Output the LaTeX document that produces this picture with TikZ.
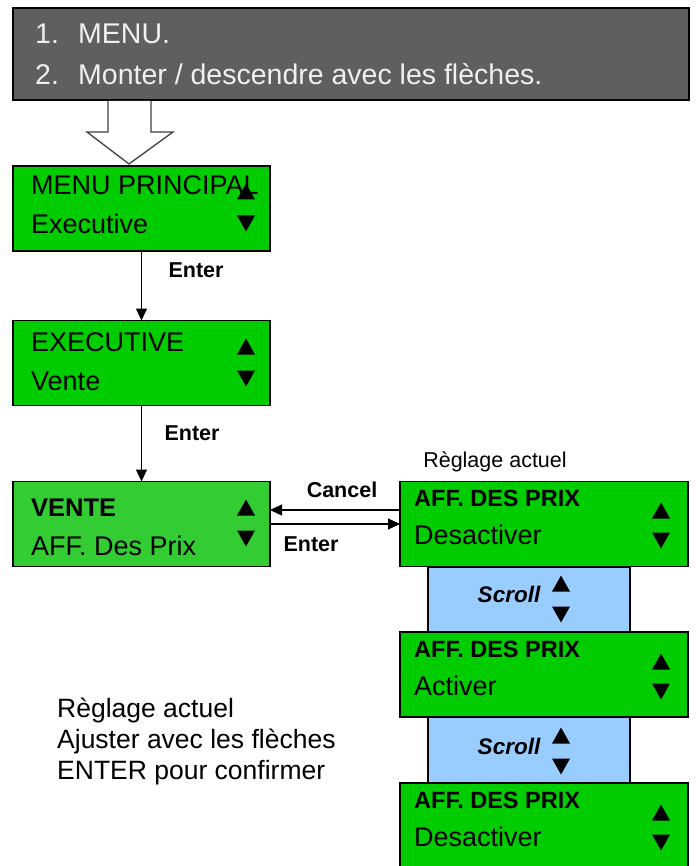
\documentclass[tikz,border=0pt]{standalone}
\usepackage{fontspec}
\setmainfont{Liberation Sans}
\usetikzlibrary{arrows.meta}
\definecolor{topgray}{HTML}{5F5F5F}
\definecolor{lcdgreen}{HTML}{00CC00}
\definecolor{lcdgreenb}{HTML}{33CC33}
\definecolor{scrollblue}{HTML}{99CCFF}
\definecolor{hollowgray}{HTML}{404040}
\newcommand\mytriup[2]{\fill (#1-9,#2+7.5) -- (#1+9,#2+7.5) -- (#1,#2-8.5) -- cycle;}
\newcommand\mytridn[2]{\fill (#1-9,#2-7.5) -- (#1+9,#2-7.5) -- (#1,#2+8.5) -- cycle;}
\tikzset{
  lcd/.style={draw=black, line width=1.2pt, fill=lcdgreen, minimum height=85pt, inner sep=0pt, outer sep=0pt},
  lcdleft/.style={lcd, minimum width=257pt},
  lcdright/.style={lcd, minimum width=288pt},
  scrollbox/.style={draw=black, line width=1.2pt, fill=scrollblue, minimum width=202pt, inner sep=0pt, outer sep=0pt},
  bigtxt/.style={anchor=base west, inner sep=0pt, font=\fontsize{27}{30}\selectfont},
  boldtxt/.style={anchor=base west, inner sep=0pt, font=\bfseries\fontsize{23.5}{26}\selectfont},
  lab/.style={inner sep=0pt, font=\bfseries\fontsize{21.5}{24}\selectfont},
  scrolltxt/.style={inner sep=0pt, font=\bfseries\itshape\fontsize{22.5}{24}\selectfont},
  note/.style={anchor=base west, inner sep=0pt, font=\fontsize{26.5}{28}\selectfont},
  arr/.style={line width=1.2pt, -{Triangle[length=12pt,width=11pt]}},
}
\begin{document}
\begin{tikzpicture}[x=1pt,y=-1pt]
\useasboundingbox (0,0) rectangle (696,866);
% top instruction box
\node[draw=black, line width=1.5pt, fill=topgray, minimum width=676pt, minimum height=92pt, inner sep=0pt] (top) at (351,54) {};
\node[anchor=base west, inner sep=0pt, text=white!94!black, font=\fontsize{28.5}{30}\selectfont] (t1) at (35,44) {\makebox[43pt][l]{1.}MENU.};
\node[anchor=base west, inner sep=0pt, text=white!94!black, font=\fontsize{28.5}{30}\selectfont] (t2) at (35,85) {\makebox[43pt][l]{2.}Monter / descendre avec les flèches.};
% hollow arrow
\draw[hollowgray, line width=1.3pt, fill=white] (108,100.8) -- (108,132) -- (87,132) -- (129,164) -- (173,132) -- (151,132) -- (151,100.8);
% left column
\node[lcdleft] (b1) at (141.5,208.5) {};
\node[bigtxt] (b1a) at (31,195) {MENU PRINCIPAL};
\node[bigtxt] (b1b) at (31,234) {Executive};
\mytriup{246}{192}\mytridn{246}{223}

\node[lcdleft] (b2) at (141.5,363) {};
\node[bigtxt] (b2a) at (31,351) {EXECUTIVE};
\node[bigtxt] (b2b) at (31,390) {Vente};
\mytriup{246}{347}\mytridn{246}{378}

\node[lcdleft, fill=lcdgreenb] (b3) at (141.5,524) {};
\node[anchor=base west, inner sep=0pt, font=\bfseries\fontsize{25.5}{27}\selectfont] (b3a) at (31,516) {VENTE};
\node[bigtxt] (b3b) at (31,555) {AFF. Des Prix};
\mytriup{246}{508}\mytridn{246}{538}

\draw[arr] (b1.south) -- (b2.north);
\node[lab] (l1) at (196,270) {Enter};
\draw[arr] (b2.south) -- (b3.north);
\node[lab] (l2) at (192,433) {Enter};

% right column
\node[scrollbox, minimum height=65pt] (s1) at (529,599.5) {};
\node[scrolltxt] (s1t) at (509,594) {Scroll};
\mytriup{561}{584}\mytridn{561}{614}
\node[scrollbox, minimum height=66pt] (s2) at (529,750) {};
\node[scrolltxt] (s2t) at (509,746) {Scroll};
\mytriup{561}{736}\mytridn{561}{766}

\node[lcdright] (bA) at (544,524) {};
\node[boldtxt] (bAa) at (414,506) {AFF. DES PRIX};
\node[bigtxt] (bAb) at (414,544) {Desactiver};
\mytriup{661}{511}\mytridn{661}{540}

\node[lcdright] (bB) at (544,674.5) {};
\node[boldtxt] (bBa) at (414,657) {AFF. DES PRIX};
\node[bigtxt] (bBb) at (414,695) {Activer};
\mytriup{661}{662}\mytridn{661}{691}

\node[lcdright] (bC) at (544,825.5) {};
\node[boldtxt] (bCa) at (414,808) {AFF. DES PRIX};
\node[bigtxt] (bCb) at (414,846) {Desactiver};
\mytriup{661}{813}\mytridn{661}{842}

\node[inner sep=0pt, font=\fontsize{21.5}{23}\selectfont] (reg) at (495,462) {Règlage actuel};

% horizontal connectors
\draw[arr] ([yshift=14pt]bA.west) -- ([yshift=14pt]b3.east);
\draw[arr] (b3.east) -- (bA.west);
\node[lab] (l3) at (342,490) {Cancel};
\node[lab] (l4) at (311,544) {Enter};

% note
\node[note] (n1) at (57,717) {Règlage actuel};
\node[note] (n2) at (57,748) {Ajuster avec les flèches};
\node[note] (n3) at (57,779) {ENTER pour confirmer};
\end{tikzpicture}
\end{document}
